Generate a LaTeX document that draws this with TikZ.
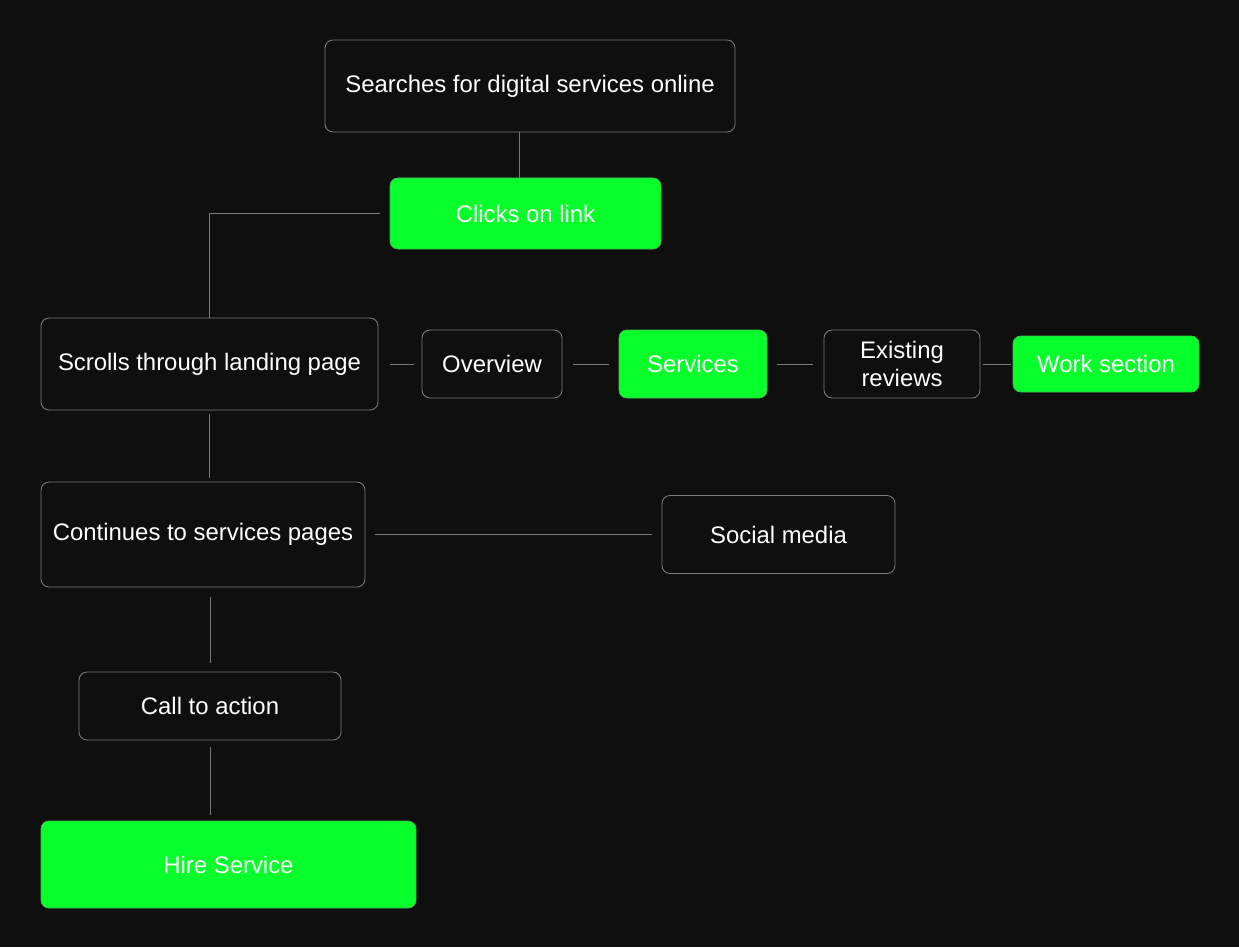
\documentclass[tikz,border=0pt]{standalone}
\usepackage{fontspec}
\setmainfont{Liberation Sans}
\usetikzlibrary{positioning}
\definecolor{bgdark}{HTML}{0F0F0F}
\definecolor{brightgreen}{HTML}{07FF2B}
\definecolor{edgegrey}{HTML}{7A7A7A}
\begin{document}
\begin{tikzpicture}[
		box/.style={rectangle,rounded corners=0.16cm,draw=edgegrey,line width=0.5pt,
			text=white,inner sep=0pt,outer sep=0pt,align=center,
			font=\fontsize{13.6}{15.5}\selectfont},
		greenbox/.style={box,fill=brightgreen,draw=edgegrey!50!brightgreen},
		link/.style={draw=edgegrey,line width=0.5pt}
		]
		\fill[bgdark] (0,0) rectangle (24.78,-18.94);
		\node[box, minimum width=8.2cm, minimum height=1.84cm] (Search) at (10.6,-1.72){Searches for digital services online};
		\node[greenbox, minimum width=5.42cm, minimum height=1.42cm, below=0.92cm of Search, xshift=-0.09cm](Click){Clicks on link};
		
		\node[box, minimum width=6.74cm, minimum height=1.84cm, below=1.38cm of Click, xshift=-6.32cm](Scroll){Scrolls through landing page};
		\node[box, minimum width=2.8cm, minimum height=1.36cm, right=0.88cm of Scroll](Over){Overview};
		\node[greenbox, minimum width=2.96cm, minimum height=1.36cm, right=1.14cm of Over](Serv){Services};
		\node[box, minimum width=3.12cm, minimum height=1.36cm, right=1.14cm of Serv](Rev){Existing\\reviews};
		\node[greenbox, minimum width=3.72cm, minimum height=1.12cm, right=0.66cm of Rev](Work){Work section};
		
		\node[box, minimum width=6.48cm, minimum height=2.1cm, below=1.44cm of Scroll, xshift=-0.13cm](Cont){Continues to services pages};
		\node[box, minimum width=4.66cm, minimum height=1.56cm, right=5.94cm of Cont](Social){Social media};
		\node[box, minimum width=5.24cm, minimum height=1.36cm, below=1.7cm of Cont, xshift=0.14cm](Call){Call to action};
		\node[greenbox, minimum width=7.5cm, minimum height=1.74cm, below=1.62cm of Call, xshift=0.37cm](Hire){Hire Service};
		
		\draw[link] ([xshift=-0.13cm]Click.north) -- ([xshift=-0.13cm]Click.north |- Search.south);
		\draw[link, shorten <=0.2cm] (Click.west) -| (Scroll.north);
		\draw[link, shorten <=0.24cm, shorten >=0.16cm] (Scroll.east) -- (Over.west);
		\draw[link, shorten <=0.22cm, shorten >=0.2cm] (Over) -- (Serv);
		\draw[link, shorten <=0.2cm, shorten >=0.22cm] (Serv) -- (Rev);
		\draw[link, shorten <=0.06cm, shorten >=0.04cm] (Rev) -- (Work);
		\draw[link, shorten <=0.08cm, shorten >=0.08cm] (Scroll.south) -- (Scroll.south |- Cont.north);
		\draw[link, shorten <=0.2cm, shorten >=0.2cm] (Cont) -- (Social);
		\draw[link, shorten <=0.2cm, shorten >=0.18cm] (Call.north |- Cont.south) -- (Call.north);
		\draw[link, shorten <=0.14cm, shorten >=0.12cm] (Call.south) -- (Call.south |- Hire.north);
	\end{tikzpicture}
\end{document}
